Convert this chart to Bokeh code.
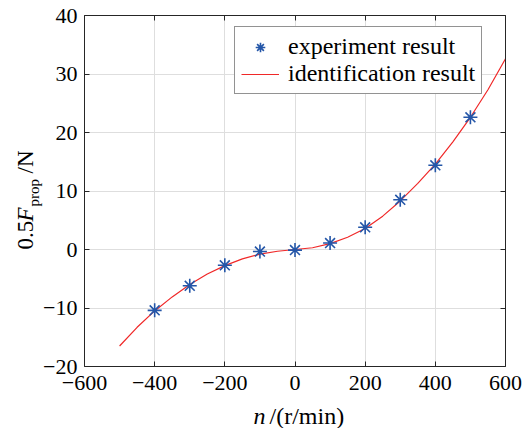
import math
from bokeh.plotting import figure
from bokeh.models import (FixedTicker, LinearAxis, Label, Legend, LegendItem,
                          ColumnDataSource, Range1d)
from bokeh.embed import file_html
from bokeh.resources import INLINE

# ---- data ----
n_exp = [-400, -300, -200, -100, 0, 100, 200, 300, 400, 500]
f_exp = [-10.4, -6.2, -2.7, -0.35, -0.1, 1.1, 3.8, 8.5, 14.4, 22.6]

n_fit = [-500, -450, -400, -350, -300, -250, -200, -150, -100, -50, 0,
         50, 100, 150, 200, 250, 300, 350, 400, 450, 500, 550, 600]
f_fit = [-16.5, -13.3, -10.5, -8.1, -6.0, -4.2, -2.75, -1.6, -0.8, -0.3, 0.0,
         0.3, 1.0, 2.1, 3.6, 5.7, 8.3, 11.3, 14.6, 18.4, 22.6, 27.3, 32.6]

x_lim = (-600, 600)
y_lim = (-20, 40)
x_ticks = [-600, -400, -200, 0, 200, 400, 600]
x_tick_labels = ["\u2212600", "\u2212400", "\u2212200", "0", "200", "400", "600"]
y_ticks = [-20, -10, 0, 10, 20, 30, 40]
y_tick_labels = ["\u221220", "\u221210", "0", "10", "20", "30", "40"]

legend_labels = ["experiment result", "identification result"]

FONT = "Liberation Serif"
AX = "#262626"

# canvas layout (pixels): the axes box sits inside a frame that covers the canvas
W, H = 523, 428
BOX_L, BOX_T, BOX_W, BOX_H = 84, 15, 421, 351
sx = BOX_W / (x_lim[1] - x_lim[0])
sy = BOX_H / (y_lim[1] - y_lim[0])
x0 = x_lim[0] - BOX_L / sx
y1 = y_lim[1] + BOX_T / sy

p = figure(frame_width=W, frame_height=H, min_border=0,
           min_border_left=0, min_border_right=0,
           min_border_top=0, min_border_bottom=0,
           x_range=Range1d(x0, x0 + W / sx), y_range=Range1d(y1 - H / sy, y1),
           output_backend="svg", toolbar_location=None,
           background_fill_color="white", border_fill_color=None)
p.outline_line_color = None

for ax, ticks, labels, loc, bnd in ((p.xaxis[0], x_ticks, x_tick_labels, y_lim[0], x_lim),
                                    (p.yaxis[0], y_ticks, y_tick_labels, x_lim[0], y_lim)):
    ax.ticker = FixedTicker(ticks=ticks)
    ax.major_label_overrides = {t: l for t, l in zip(ticks, labels)}
    ax.major_label_text_font = FONT
    ax.major_label_text_font_size = "22px"
    ax.major_label_text_color = "black"
    ax.axis_line_color = AX
    ax.major_tick_line_color = AX
    ax.major_tick_in = 5
    ax.major_tick_out = 0
    ax.minor_tick_line_color = None
    ax.fixed_location = loc
    ax.bounds = bnd
p.xaxis[0].major_label_standoff = 9
p.yaxis[0].major_label_standoff = 7

for place, ticks, loc, bnd in (("above", x_ticks, y_lim[1], x_lim),
                               ("right", y_ticks, x_lim[1], y_lim)):
    a = LinearAxis(ticker=FixedTicker(ticks=ticks),
                   major_label_overrides={t: "" for t in ticks},
                   major_label_standoff=0, fixed_location=loc, bounds=bnd,
                   axis_line_color=AX, major_tick_line_color=AX,
                   major_tick_in=5, major_tick_out=0,
                   minor_tick_line_color=None)
    p.add_layout(a, place)

p.xgrid.ticker = FixedTicker(ticks=x_ticks)
p.ygrid.ticker = FixedTicker(ticks=y_ticks)
p.xgrid[0].bounds = x_lim
p.xgrid[0].cross_bounds = y_lim
p.ygrid[0].bounds = y_lim
p.ygrid[0].cross_bounds = x_lim
for g in (p.xgrid[0], p.ygrid[0]):
    g.grid_line_color = "#dedede"
    g.grid_line_width = 1

src_exp = ColumnDataSource(dict(n=n_exp, f=f_exp))
src_fit = ColumnDataSource(dict(n=n_fit, f=f_fit))

r_line = p.line("n", "f", source=src_fit, line_color="#f02828", line_width=1.2)
r_pts = p.scatter("n", "f", source=src_exp, marker="asterisk", size=14,
                  line_color="#2456a8", line_width=1.6)

legend = Legend(items=[LegendItem(label=legend_labels[0], renderers=[r_pts]),
                       LegendItem(label=legend_labels[1], renderers=[r_line])],
                location=(234, H - 94), margin=0, padding=6, spacing=0,
                glyph_width=38, glyph_height=24, label_standoff=9,
                label_height=24,
                label_text_font=FONT, label_text_font_size="24px",
                label_text_color="black",
                border_line_color=AX, border_line_width=1,
                background_fill_color="white", background_fill_alpha=1)
p.add_layout(legend)

# axis titles built from pieces (italic symbol, subscript); screen px, y up
def lab(text, x, y, size="23px", style="normal", angle=0.0):
    p.add_layout(Label(x=x, y=y, x_units="screen", y_units="screen",
                       text=text, angle=angle, text_font=FONT,
                       text_font_size=size, text_font_style=style,
                       text_color="black", text_align="left",
                       text_baseline="alphabetic"))

A = math.pi / 2
lab("0.5", 25, H - 249, angle=A)
lab("F", 25, H - 221, style="italic", angle=A)
lab("prop", 33.5, H - 206, size="15px", angle=A)
lab("/N", 25, H - 173, angle=A)

lab("n", 253, 13, size="24px", style="italic")
lab("/(r/min)", 269, 13, size="24px")

open("out.html", "w").write(file_html(p, INLINE))
